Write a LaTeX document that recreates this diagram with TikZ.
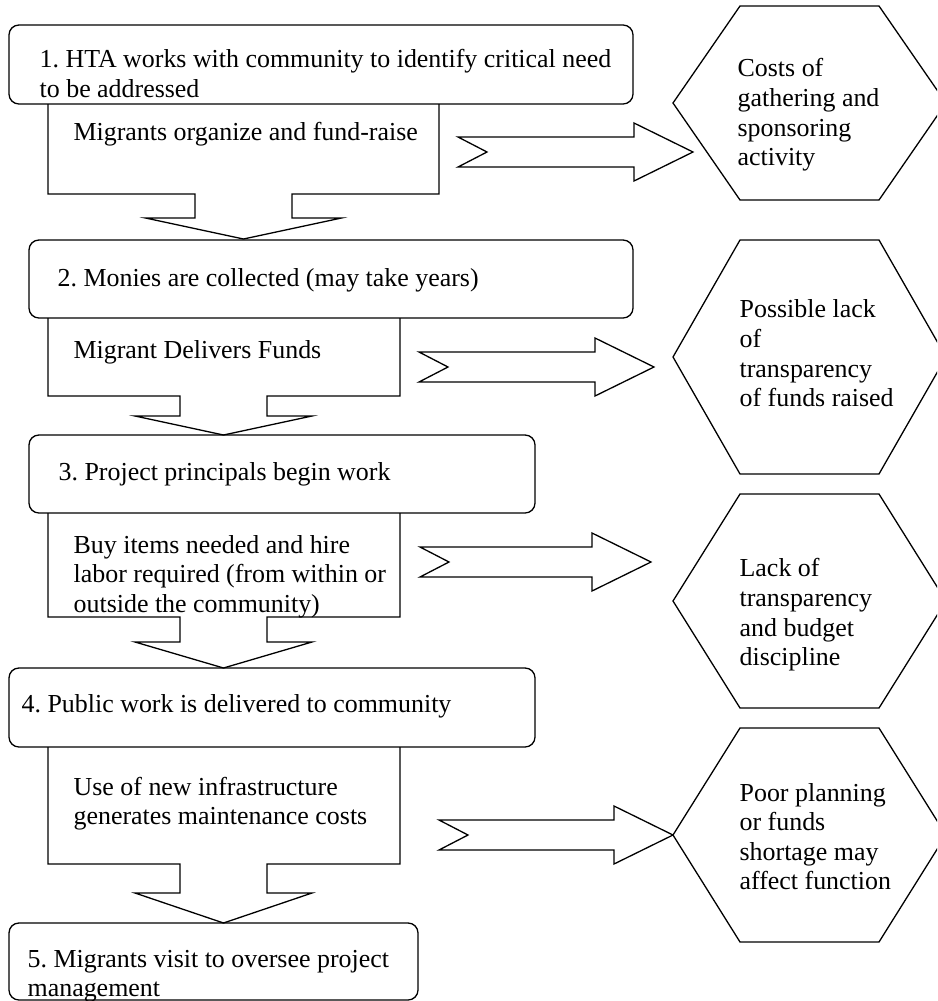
\documentclass[tikz,border=0pt]{standalone}
\usepackage{fontspec}
\setmainfont{Liberation Serif}
\begin{document}
\begin{tikzpicture}[x=0.463pt,y=-0.463pt,line width=0.6pt,
		stepbox/.style={draw, rounded corners=4.6pt},
		callout/.style={draw, line join=miter},
		txt/.style={anchor=base west, inner sep=0pt, align=left, font=\fontsize{12}{13.66}\selectfont\frenchspacing}]
		\clip (0,0) rectangle (937,1001);
		% steps
		\draw[stepbox] (9,25) rectangle (633,104);
		\draw[stepbox] (29,240) rectangle (633,318);
		\draw[stepbox] (29,435) rectangle (535,513);
		\draw[stepbox] (9,668) rectangle (535,747);
		\draw[stepbox] (9,923) rectangle (418,1000);
		% activity boxes with down arrows
		\draw[callout] (48,104) -- (48,194) -- (195,194) -- (195,218) -- (145.5,218) -- (243.5,239) -- (341.5,218) -- (292,218) -- (292,194) -- (439,194) -- (439,104);
		\draw[callout] (48,318) -- (48,396) -- (180,396) -- (180,416) -- (135,416) -- (223.5,435) -- (312,416) -- (267,416) -- (267,396) -- (400,396) -- (400,318);
		\draw[callout] (48,513) -- (48,617) -- (180,617) -- (180,642) -- (135,642) -- (223.5,668) -- (312,642) -- (267,642) -- (267,617) -- (400,617) -- (400,513);
		\draw[callout] (48,747) -- (48,864) -- (180,864) -- (180,893) -- (135,893) -- (223.5,923) -- (312,893) -- (267,893) -- (267,864) -- (400,864) -- (400,747);
		% notched arrows to the risks
		\foreach \tx/\tp/\cy in {458/693/152, 419/654/367, 420/651/562, 439/673/835}
			\draw[callout] (\tx,\cy-15) -- (\tx+29,\cy) -- (\tx,\cy+15) -- (\tp-59,\cy+15) -- (\tp-59,\cy+29)
				-- (\tp,\cy) -- (\tp-59,\cy-29) -- (\tp-59,\cy-15) -- cycle;
		% risks
		\foreach \cy/\hh in {103/97, 357/117, 601/107, 835/107}
			\draw[callout] (673,\cy) -- (740,\cy-\hh) -- (879,\cy-\hh) -- (946,\cy) -- (879,\cy+\hh) -- (740,\cy+\hh) -- cycle;
		% texts (placed at the baseline of their last line)
		\node[txt] (s1) at (39,97.5) {1. HTA works with community to identify critical need\\to be addressed};
		\node[txt] (s2) at (57,286) {2. Monies are collected (may take years)};
		\node[txt] (s3) at (58,480) {3. Project principals begin work};
		\node[txt] (s4) at (21,712) {4. Public work is delivered to community};
		\node[txt] (s5) at (27,996.5) {5. Migrants visit to oversee project\\management};
		\node[txt] (a1) at (73,140) {Migrants organize and fund-raise};
		\node[txt] (a2) at (73,358) {Migrant Delivers Funds};
		\node[txt] (a3) at (73,612) {Buy items needed and hire\\labor required (from within or\\outside the community)};
		\node[txt] (a4) at (73,824.5) {Use of new infrastructure\\generates maintenance costs};
		\node[txt] (r1) at (737,165.5) {Costs of\\gathering and\\sponsoring\\activity};
		\node[txt] (r2) at (739,406.5) {Possible lack\\of\\transparency\\of funds raised};
		\node[txt] (r3) at (739,665.5) {Lack of\\transparency\\and budget\\discipline};
		\node[txt] (r4) at (739,889.5) {Poor planning\\or funds\\shortage may\\affect function};
	\end{tikzpicture}
\end{document}
